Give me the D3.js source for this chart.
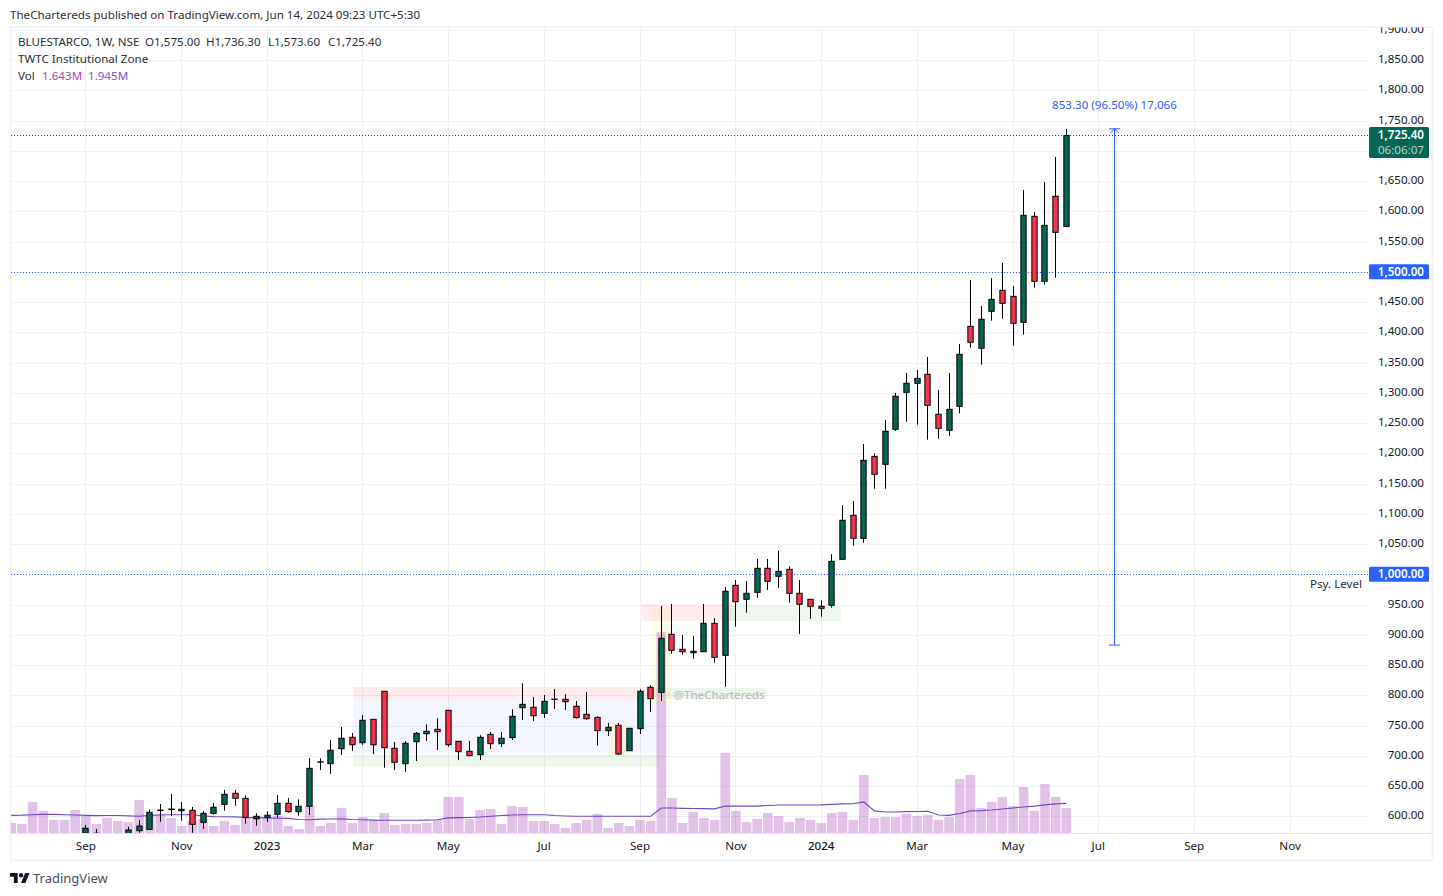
<!DOCTYPE html>
<html><head><meta charset="utf-8">
<script src="https://cdn.jsdelivr.net/npm/d3@7"></script>
<style>
html,body{margin:0;padding:0;background:#fff;overflow:hidden}
text{font-family:"Noto Sans",sans-serif;font-size:11.6px;fill:#2a2e39}
</style></head><body><svg id="c" width="1443" height="896"></svg>
<script>
// Weekly candles, oldest to newest, ending the week of 2024-06-10
const opens=[572,565,565,555,570,576.2,578.5,609.5,611.2,609.3,609.9,590,604.9,619.8,638,629.7,596,598.3,603.3,621.5,607.6,616.5,689.4,687,711.7,730.6,721.6,760.3,806.6,712.4,687,723.3,736.5,743.8,775.2,724,707.4,701.8,735.5,720,730,779.5,780.2,770.2,793.6,793.4,781.8,768.6,763.6,741.5,750.4,708.4,744.8,813.2,804.9,900.8,876,870.4,872,919,866.1,981.8,958.7,970.2,1009.9,996.7,1008.3,968.6,958.7,947.1,948.8,1024.8,1097.5,1059.5,1195,1181.8,1239.7,1300.8,1315.7,1330.6,1264.5,1238,1277.7,1409.9,1373.6,1434.7,1469.4,1459.5,1416.5,1591.7,1484.3,1624.8,1575];
const highs=[585.6,579,571,568,582.8,593.8,611.6,620.3,636.9,623.6,615.4,608.7,622,643.5,643.5,634.7,604.9,608.3,635.2,630.2,628,696.4,695.9,726.1,747.6,737.7,767.4,760.8,806.6,722.8,724.4,739.3,752,762,775.2,724,724.4,733.9,739.3,739.3,776.8,819.8,797.2,800.5,810.4,802,790.6,805.5,765.3,754.2,754.2,746.4,809.9,816.5,947.6,950.9,899.7,898,950.9,927.8,979,990.6,988.9,1025.3,1025.3,1038.5,1013.2,990.6,958.7,957,1033.1,1114.5,1121.1,1215.4,1200,1255,1299.7,1332.7,1337.7,1359.2,1304.7,1332.7,1380.6,1486.5,1443.5,1489.8,1514.5,1476.5,1635.2,1598.8,1648.4,1689.8,1736.3];
const lows=[560,555,550,540,560,572.8,577.3,591,600.5,592.7,572.8,579.5,602.7,609.3,617.5,587.8,584.5,590.6,597.7,606,601,602.2,676.5,670.4,701.3,708,718.3,703,680.3,676.5,673.7,691.4,724.4,709.6,715,693,700.2,693,711.2,714.5,726.1,759.2,757.6,762.5,777.3,775.7,761.3,759.7,717,732.7,701.3,708.4,736,772.4,790.6,868.7,867.1,860.5,872,853.9,814.2,913.4,936.5,961.3,974.1,977.8,953.1,901.3,926.6,929.9,944.8,1024.8,1047.3,1052.2,1141.5,1141.5,1236.9,1252.2,1247.3,1222.5,1224.1,1229.1,1266.1,1374.6,1346.5,1419.2,1422.5,1377.8,1396,1473.7,1478.7,1490.3,1573.6];
const closes=[580.2,572,555,560,577.3,583.9,606.6,610.3,612,611.6,586.7,604.9,614.9,636.3,629.7,598.3,600,601.7,621.5,607.6,616.5,679.3,690,709.1,729,718.3,758.7,718.3,713.4,689.2,720.7,737.2,740.5,739.8,718.3,706.8,700.2,730.6,720,729,765.3,785.1,766.3,790.1,793.2,789.4,763.1,761.3,741.5,747.1,703,745.4,806.6,794.4,894.2,874.4,872,872.7,919,862.8,971.9,954.7,968.6,1009.9,988.4,1005,968.6,950.4,947.1,943.8,1021.5,1089.3,1059.5,1188.4,1165.3,1236.4,1294.2,1315.7,1323.9,1279.3,1241.3,1272.7,1363.6,1383.5,1421.5,1454.5,1447.9,1414.9,1593.4,1484.3,1576.9,1565.3,1725.4];
// Volume (millions) and its moving average, 100 weeks ending 2024-06-10
const volumes=[.66,.59,2.04,1.45,.85,.85,1.51,1.12,.59,1.01,.79,.72,2.17,1.22,1.25,.99,.46,.79,.92,.46,.79,.53,.99,1.12,.99,1.12,.46,.26,1.77,.46,.66,1.64,.66,1.05,.85,1.31,.53,.59,.59,.66,.85,2.37,2.37,.92,1.51,1.58,.59,1.77,1.71,.79,.79,.59,.33,.66,.85,1.25,.33,.66,.46,.85,.79,13.2,2.3,.66,1.38,.99,.85,5.26,1.45,.72,.92,1.31,1.12,.72,.99,.85,.66,1.31,1.38,.85,3.81,.99,1.05,1.05,1.25,1.12,1.18,.85,1.05,3.55,3.81,1.64,2.04,2.37,1.77,3.02,1.45,3.22,2.37,1.643];
const volumeMA=[1.16,1.17,1.2,1.22,1.22,1.2,1.18,1.16,1.14,1.15,1.15,1.13,1.1,1.16,1.18,1.2,1.2,1.2,1.12,1.08,1.07,1.06,1.02,1.01,.99,.97,.96,.89,.87,.91,.92,.93,.89,.87,.85,.84,.84,.84,.84,.85,.87,.99,1.01,1.02,1.05,1.1,1.15,1.18,1.2,1.2,1.2,1.15,1.12,1.1,1.1,1.1,1.1,1.1,1.1,1.1,1.1,1.64,1.64,1.62,1.61,1.6,1.59,1.77,1.77,1.77,1.77,1.81,1.84,1.84,1.84,1.84,1.85,1.88,1.91,1.92,2.04,1.45,1.38,1.38,1.4,1.41,1.43,1.18,1.16,1.28,1.45,1.47,1.51,1.58,1.64,1.71,1.77,1.85,1.91,1.945];
const priceTicks=d3.range(600,1901,50);
const hiddenPriceLabels=[1000,1500,1700];
const monthTicks=["2022-09-05","2022-11-07","2023-01-02","2023-03-06","2023-05-01","2023-07-03","2023-09-04","2023-11-06","2024-01-01","2024-03-04","2024-05-06","2024-07-01","2024-09-02","2024-11-04"];
// Zones: weeks back from the last bar (start,end) and price (top,bottom)
const zones=[
 {start:66.9,end:38.15,top:813.7,bottom:791.1,fill:"rgba(242,54,69,.09)"},
 {start:66.9,end:38.15,top:791.1,bottom:704.6,fill:"rgba(41,98,255,.055)"},
 {start:66.9,end:38.15,top:702.5,bottom:682,fill:"rgba(76,175,80,.1)"},
 {start:42.85,end:41.2,top:754.2,bottom:697.3,fill:"rgba(255,235,59,.13)"},
 {start:38.8,end:37.1,top:944.2,bottom:786.6,fill:"rgba(255,235,59,.13)"},
 {start:39.85,end:31,top:951,bottom:923,fill:"rgba(242,54,69,.09)"},
 {start:31.6,end:21.15,top:948,bottom:923,fill:"rgba(76,175,80,.1)"},
 {start:37.6,end:28.1,top:812,bottom:794,fill:"rgba(76,175,80,.1)"}
];
const levels=[{price:1500,color:"#2962ff"},{price:1000,color:"#2962ff"}];
const lastClose=1725.4, measureFrom=883, measureTo=1736.3, measureAt=-4.55;

const up="#056656",down="#f5344a",ink="#131722";
const L=11,R=1368.5,T=27.5,B=833;
const svg=d3.select("#c");
const defs=svg.append("defs");
defs.append("clipPath").attr("id","pane").append("rect").attr("x",L).attr("y",T).attr("width",R-L).attr("height",B-T);
defs.append("clipPath").attr("id","axisClip").append("rect").attr("x",R).attr("y",T).attr("width",1432-R).attr("height",B-T);

const parse=d3.utcParse("%Y-%m-%d");
const lastWeek=parse("2024-06-10");
const x=d3.scaleUtc().domain([parse("2023-01-02"),lastWeek]).range([267,1066.3]);
const y=d3.scaleLinear().domain([600,1900]).range([816.3,29.8]);
const v=d3.scaleLinear().domain([0,13.2]).range([B,632.1]);
const xBack=n=>x(new Date(+lastWeek-n*7*864e5));
const barW=xBack(0)-xBack(1);
const snap=p=>Math.round(p)+.5;
const snapX=p=>Math.floor(p)+.5;

// frame
svg.append("rect").attr("width",1443).attr("height",896).attr("fill","#fff");
svg.append("rect").attr("x",10.5).attr("y",27).attr("width",1422).attr("height",833.5).attr("fill","none").attr("stroke","#f0f3fa").attr("stroke-width",2);

// grid
const pane=svg.append("g").attr("clip-path","url(#pane)");
pane.append("g").selectAll("line").data(priceTicks).join("line")
 .attr("x1",L).attr("x2",R).attr("y1",d=>snap(y(d))).attr("y2",d=>snap(y(d))).attr("stroke","#f0f1f4").attr("stroke-width",1);
pane.append("g").selectAll("line").data(monthTicks).join("line")
 .attr("y1",T).attr("y2",B).attr("x1",d=>snapX(x(parse(d)))).attr("x2",d=>snapX(x(parse(d)))).attr("stroke","#eff0f3").attr("stroke-width",1);

// volume
const nV=volumes.length;
pane.append("g").selectAll("rect").data(volumes).join("rect")
 .attr("x",(d,i)=>xBack(nV-1-i)-barW*.45).attr("width",barW*.9)
 .attr("y",d=>v(d)).attr("height",d=>B-v(d)).attr("fill","#ab47bc").attr("fill-opacity",.33);

// zones
pane.append("g").selectAll("rect").data(zones).join("rect")
 .attr("x",d=>xBack(d.start)).attr("width",d=>xBack(d.end)-xBack(d.start))
 .attr("y",d=>y(d.top)).attr("height",d=>y(d.bottom)-y(d.top)).attr("fill",d=>d.fill);

// MA line
pane.append("path").datum(volumeMA)
 .attr("d",d3.line().x((d,i)=>xBack(nV-1-i)).y(d=>v(d)))
 .attr("fill","none").attr("stroke","#7148c2").attr("stroke-width",1.15);

// levels
pane.append("g").selectAll("line").data(levels).join("line")
 .attr("x1",L).attr("x2",R).attr("y1",d=>snap(y(d.price))).attr("y2",d=>snap(y(d.price)))
 .attr("stroke",d=>d.color).attr("stroke-width",1).attr("stroke-dasharray","1 2");
pane.append("line").attr("x1",L).attr("x2",R).attr("y1",snap(y(lastClose))).attr("y2",snap(y(lastClose)))
 .attr("stroke",up).attr("stroke-width",1).attr("stroke-dasharray","1 2");

// candles
const nC=closes.length;
const candles=pane.append("g").selectAll("g").data(closes).join("g");
candles.append("line")
 .attr("x1",(d,i)=>snapX(xBack(nC-1-i))).attr("x2",(d,i)=>snapX(xBack(nC-1-i)))
 .attr("y1",(d,i)=>y(highs[i])).attr("y2",(d,i)=>y(lows[i]))
 .attr("stroke","#000").attr("stroke-width",1);
candles.append("rect")
 .attr("x",(d,i)=>snapX(xBack(nC-1-i))-2.65).attr("width",5.3)
 .attr("y",(d,i)=>y(Math.max(opens[i],closes[i])))
 .attr("height",(d,i)=>Math.abs(y(opens[i])-y(closes[i])))
 .attr("fill",(d,i)=>closes[i]>=opens[i]?up:down)
 .attr("stroke","#000").attr("stroke-width",1);

// measure tool
const mx=snapX(xBack(measureAt)), my1=y(measureTo), my2=y(measureFrom), mc="#2962ff";
const m=pane.append("g").attr("stroke",mc).attr("fill","none").attr("stroke-width",1);
m.append("line").attr("x1",mx).attr("x2",mx).attr("y1",my1).attr("y2",my2);
m.append("line").attr("x1",mx-5.5).attr("x2",mx+5.5).attr("y1",my1).attr("y2",my1);
m.append("line").attr("x1",mx-5.5).attr("x2",mx+5.5).attr("y1",my2).attr("y2",my2);
m.append("path").attr("d",`M${mx-4},${my1+4}L${mx},${my1}L${mx+4},${my1+4}`);
svg.append("text").attr("x",mx).attr("y",y(measureTo)-20).attr("text-anchor","middle").style("fill",mc).text("853.30 (96.50%) 17,066");

// labels in pane
svg.append("text").attr("x",1362).attr("y",y(1000)+14).attr("text-anchor","end").text("Psy. Level");
svg.append("text").attr("x",xBack(37.6)+8).attr("y",698.5).style("fill","#b3b8b5").text("@TheChartereds");

// price axis
const ay=svg.append("g").attr("clip-path","url(#axisClip)").append("g")
 .attr("transform","translate(1424,-0.7)")
 .call(d3.axisLeft(y).offset(0).tickValues(priceTicks.filter(d=>!hiddenPriceLabels.includes(d))).tickSize(0).tickPadding(0).tickFormat(d3.format(",.2f")));
ay.select(".domain").remove();
ay.selectAll("text").style("font-size","11.6px").style("font-family",'"Noto Sans",sans-serif').style("fill",ink);

// time axis
const ax=svg.append("g").attr("transform",`translate(0,${B})`)
 .call(d3.axisBottom(x).offset(0).tickValues(monthTicks.map(parse)).tickSize(0).tickPadding(9)
 .tickFormat(d=>d.getUTCMonth()===0?d3.utcFormat("%Y")(d):d3.utcFormat("%b")(d)));
ax.select(".domain").attr("stroke","#e0e3eb").attr("d",`M${L},0.5H1432`);
ax.selectAll("text").style("font-size","11.6px").style("font-family",'"Noto Sans",sans-serif').style("fill",ink)
 .style("font-weight",d=>d.getUTCMonth()===0?500:400);

// pills
function pill(price,h,color){
 const py=y(price);
 svg.append("rect").attr("x",1369).attr("y",py-h/2).attr("width",60).attr("height",h).attr("rx",1.5).attr("fill",color);
}
levels.forEach(l=>{
 pill(l.price,15,l.color);
 svg.append("text").attr("x",1424).attr("y",y(l.price)+3.8).attr("text-anchor","end").style("fill","#fff").style("font-weight",600).text(d3.format(",.2f")(l.price));
});
svg.append("rect").attr("x",1369).attr("y",127).attr("width",60).attr("height",31).attr("rx",1.5).attr("fill",up);
svg.append("text").attr("x",1424).attr("y",139).attr("text-anchor","end").style("fill","#fff").style("font-weight",600).text(d3.format(",.2f")(lastClose));
svg.append("text").attr("x",1424).attr("y",153.5).attr("text-anchor","end").style("fill","#b8d4cf").text("06:06:07");

// header and legend
svg.append("text").attr("x",10).attr("y",19).text("TheChartereds published on TradingView.com, Jun 14, 2024 09:23 UTC+5:30");
svg.append("text").attr("x",18).attr("y",46).text("BLUESTARCO, 1W, NSE");
[["O1,575.00",145],["H1,736.30",206],["L1,573.60",268],["C1,725.40",328]].forEach(([t,px])=>svg.append("text").attr("x",px).attr("y",46).text(t));
svg.append("text").attr("x",18).attr("y",63).text("TWTC Institutional Zone");
svg.append("text").attr("x",18).attr("y",80).text("Vol");
svg.append("text").attr("x",42).attr("y",80).style("fill","#ab47bc").text("1.643M");
svg.append("text").attr("x",88).attr("y",80).style("fill","#7e57c2").text("1.945M");

// footer
const logo=svg.append("g").attr("transform","translate(10,870.8) scale(.55)").attr("fill","#131722");
logo.append("path").attr("d","M14 22H7V11H0V4h14v18zM28 22h-8l7.5-18h8L28 22z");
logo.append("circle").attr("cx",20).attr("cy",8).attr("r",4);
svg.append("text").attr("x",33).attr("y",883).style("font-size","13px").style("fill","#4a4e59").text("TradingView");
</script></body></html>
